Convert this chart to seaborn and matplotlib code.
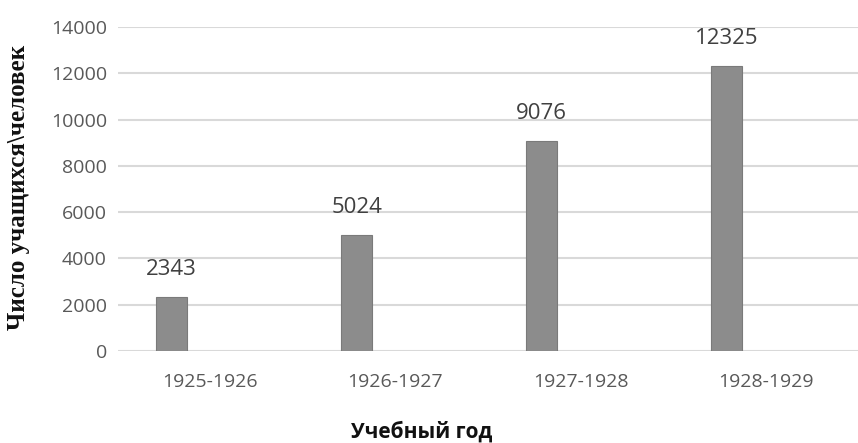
import pandas as pd
import matplotlib.pyplot as plt
import seaborn as sns

years = ["1925-1926", "1926-1927", "1927-1928", "1928-1929"]
students = [2343, 5024, 9076, 12325]
series = ["Ряд1"] * len(years)

df = pd.DataFrame({"year": years, "students": students, "series": series})

sns.set_style("white")
plt.rcParams['font.family'] = ['Open Sans', 'DejaVu Sans']

fig = plt.figure(figsize=(8.58, 4.43), dpi=100)
ax = fig.add_axes([0.1375, 0.2077, 0.8625, 0.7313])

# second (empty) series keeps the bars shifted left, as in the Excel original
sns.barplot(data=df, x="year", y="students", hue="series", hue_order=["Ряд1", "Ряд2"],
            palette=["#8c8c8c", "#8c8c8c"], width=0.84, gap=0.595, dodge=True,
            edgecolor="#7a7a7a", linewidth=0.8, legend=False, ax=ax, zorder=3)

ax.set_ylim(0, 14000)
ax.set_yticks(range(0, 14001, 2000))
ax.grid(axis="y", color="#d9d9d9", linewidth=1.5, zorder=0)
ax.grid(axis="x", visible=False)
for s in ax.spines.values():
    s.set_visible(False)
ax.tick_params(axis="both", length=0, labelsize=14, colors="#595959", pad=8)
ax.tick_params(axis="x", pad=16)

for p, v in zip(ax.patches, students):
    ax.annotate(str(v), (p.get_x() + p.get_width() / 2, v), xytext=(0, 12),
                textcoords="offset points", ha="center", va="bottom",
                fontsize=16, color="#404040")

ax.set_xlabel("Учебный год", fontsize=15, fontweight="bold", color="#111111")
ax.xaxis.label.set_va("center")
ax.xaxis.set_label_coords(0.41, -0.25)
ax.set_ylabel("Число учащихся\\человек", fontsize=18, fontweight="bold",
              family=["Liberation Serif"], color="#111111")
ax.yaxis.label.set_va("center")
ax.yaxis.set_label_coords(-0.135, 0.505)

fig.savefig("out.png", dpi=100)
